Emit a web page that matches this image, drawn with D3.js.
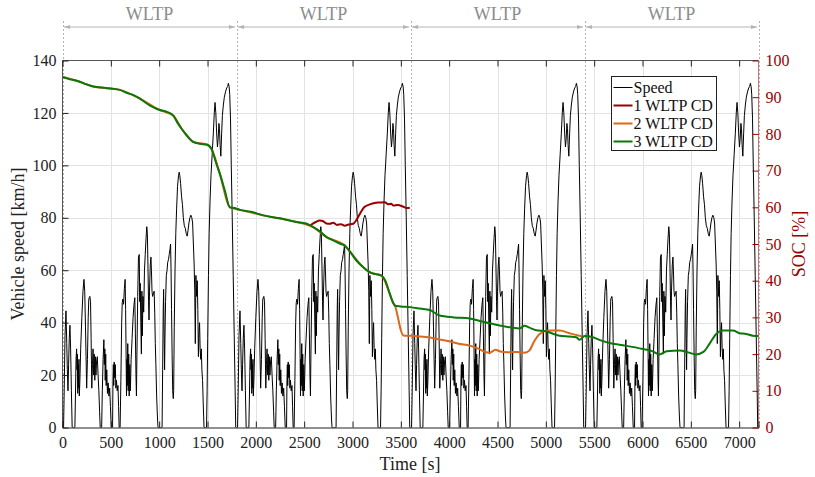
<!DOCTYPE html>
<html><head><meta charset="utf-8">
<script src="https://cdn.jsdelivr.net/npm/d3@7"></script>
<style>
body{margin:0;background:#fff;}
svg text{font-family:"Liberation Serif","Times New Roman",serif;}
</style></head>
<body><svg id="c" width="815" height="477"></svg>
<script>
// ---- data ----
const cycleLength = 1800;
const cycleCount = 4;
const cycleName = "WLTP";
// one WLTP class 3 cycle: [time s, speed km/h]
const speedCycle = [
[0,0],[11,0],[18,15],[26,35],[36,44.5],[44,32],[50,22],[57,14],[63,24],[70,34],[77,39],[84,30],[92,14],[100,0],[128,0],
[134,12],[140,26],[146,30],[150,22],[154,28],[158,13],[162,24],[166,15],[170,26],[174,12],[180,18],[188,30],[200,42],[212,52],
[222,56.5],[230,52],[238,38],[250,15],[258,26],[266,42],[272,49],[283,50],[290,48],[296,34],[303,15],[310,24],[316,30],[322,20],
[328,28],[334,18],[340,27],[346,20],[352,25],[360,27],[368,20],[376,14],[384,6],[390,0],[405,0],[412,14],[420,26],[428,33.5],
[433,24],[438,30],[442,18],[447,28],[452,16],[458,22],[465,13],[472,17],[480,12],[488,15],[496,8],[504,0],[518,0],[522,18],
[526,24],[530,16],[535,25],[540,19],[546,24],[552,15],[558,18],[566,14],[574,16],[580,8],[586,0],[596,0],
[604,18],[612,40],[618,47.6],[625,49],[632,47],[640,53],[648,56.5],[653,45],[658,28],[662,12],[666,26],[670,16],[675,32],
[680,14],[685,28],[690,12],[696,24],[702,14],[710,26],[720,34],[730,42],[740,47],[748,49.5],[754,36],[760,20],[765,12],
[770,28],[778,50],[786,65],[794,66],[799,48],[804,55],[810,40],[816,28],[821,52],[826,35],[832,50],[840,44],[848,60],
[856,66],[864,72],[872,76.6],[878,74],[884,62],[890,48],[895,41],[900,52],[908,62],[915,65],[920,60],[926,52],[932,50],
[940,51],[948,52],[954,44],[960,32],[966,24],[974,12],[982,4],[988,0],[1030,0],
[1036,22],[1042,45],[1046,52.7],[1051,36],[1056,22],[1060,34],[1066,48],[1074,58],[1082,60],[1088,63],[1096,64],[1104,66],
[1112,68],[1118,70],[1123,60],[1128,45],[1134,28],[1140,14],[1146,11],[1150,14],[1156,38],[1164,60],[1172,74],[1180,83],
[1190,92],[1200,96],[1207,97.4],[1214,96],[1222,93],[1232,88],[1241,85],[1250,80],[1260,77],[1270,76],[1280,74],[1290,73],
[1298,75],[1308,78],[1318,80],[1328,81],[1338,80],[1346,78],[1354,70],[1362,62],[1368,52],[1374,32],[1380,58],[1388,50],
[1394,56],[1400,45],[1406,27],[1412,36],[1418,40],[1424,30],[1430,26],[1436,30],[1442,22],[1449,18],[1456,9],[1464,0],[1490,0],
[1496,14],[1502,34],[1510,58],[1517,74],[1526,86],[1536,96],[1548,104],[1560,112],[1570,120],[1578,124],[1586,120],[1595,112],
[1603,107],[1610,110],[1618,116],[1624,114],[1630,108],[1638,103.5],[1646,112],[1654,119],[1664,123],[1674,126],[1686,128],
[1698,129.5],[1708,130],[1716,131.3],[1724,130],[1730,127],[1738,118],[1746,100],[1756,80],[1766,58],[1776,36],[1786,14],
[1792,0],[1800,0]
];
// SOC [%] vs time [s]
const soc3 = [
[0,95.5],[60,95.0],[146,94.5],[250,93.5],[318,92.9],[450,92.5],[594,92.0],[663,91.2],[740,90.5],[801,89.6],[860,88.5],
[905,87.7],[960,87.0],[1008,86.5],[1080,86.0],[1146,85.0],[1190,83.0],[1232,81.4],[1290,79.5],[1353,77.8],[1420,77.3],
[1491,77.1],[1542,75.9],[1590,72.0],[1628,69.1],[1680,64.5],[1731,60.0],[1783,59.8],[1835,59.3],[1950,58.8],[2076,57.8],
[2250,57.0],[2421,56.0],[2520,55.6],[2593,54.6],[2660,53.5],[2731,51.9],[2800,51.0],[2880,50.0],[2920,49.6],[2972,48.0],
[3040,45.5],[3110,43.7],[3179,42.3],[3240,41.8],[3300,41.4],[3340,40.0],[3386,36.4],[3420,34.0],[3438,33.2],[3500,33.0],
[3593,32.8],[3700,32.4],[3800,32.0],[3902,30.5],[4050,30.0],[4213,29.7],[4350,28.8],[4522,27.8],[4650,27.2],[4729,27.0],
[4780,27.7],[4830,27.2],[4900,26.5],[5000,26.2],[5143,25.0],[5250,24.8],[5315,24.6],[5349,23.9],[5400,24.9],[5487,24.6],
[5560,23.8],[5659,23.0],[5800,22.4],[6004,21.4],[6100,20.8],[6176,19.9],[6250,20.8],[6383,21.0],[6480,20.4],[6555,19.9],
[6630,20.6],[6693,22.8],[6762,25.5],[6831,26.4],[6935,26.4],[7003,25.7],[7072,25.5],[7141,25.0],[7200,24.9]
];
const soc2 = [
[0,95.5],[146,94.5],[318,92.9],[594,92.0],[801,89.6],[1008,86.5],[1146,85.0],[1232,81.4],[1353,77.8],[1491,77.1],[1542,75.9],
[1628,69.1],[1731,60.0],[1835,59.3],[2076,57.8],[2421,56.0],[2593,54.6],[2731,51.9],[2920,49.6],[2972,48.0],[3110,43.7],
[3179,42.3],[3300,41.4],[3386,36.4],[3420,34.0],[3440,33.2],[3470,30.0],[3500,26.5],[3527,25.1],[3600,25.0],[3700,24.8],
[3800,24.5],[3900,24.0],[4000,23.5],[4100,22.8],[4213,22.3],[4300,21.5],[4380,20.5],[4420,20.4],[4480,21.2],[4520,20.8],
[4600,20.5],[4700,20.6],[4781,20.4],[4830,21.0],[4880,23.5],[4936,25.5],[5019,26.4],[5100,26.4],[5143,26.4],[5246,25.7],
[5349,25.0],[5380,24.9]
];
const soc1 = [
[2560,55.0],[2576,55.3],[2620,56.0],[2660,56.4],[2697,56.2],[2730,55.6],[2766,55.5],[2800,55.8],[2840,55.2],[2880,55.4],
[2920,55.0],[2960,55.3],[3007,55.5],[3040,56.5],[3076,58.2],[3120,60.0],[3179,60.8],[3230,61.2],[3280,61.3],[3334,61.4],
[3370,60.8],[3400,61.0],[3420,60.5],[3470,60.6],[3520,60.2],[3560,59.8],[3593,59.9]
];
const xTicks = [0,500,1000,1500,2000,2500,3000,3500,4000,4500,5000,5500,6000,6500,7000];
const yLeftTicks = [0,20,40,60,80,100,120,140];
const yRightTicks = [0,10,20,30,40,50,60,70,80,90,100];
const legendLabels = ["Speed","1 WLTP CD","2 WLTP CD","3 WLTP CD"];
const seriesColors = ["#000000","#990000","#d9691c","#0a770a"];

// ---- build speed series over all cycles ----
const speed = [];
for (let k = 0; k < cycleCount; k++) {
  speedCycle.forEach(([t, v], i) => { if (k > 0 && i === 0) return; speed.push([t + k*cycleLength, v]); });
}

const svg = d3.select("#c");
const L = 62.5, R = 758.5, T = 60.5, B = 427.5;
const x = d3.scaleLinear().domain([0, cycleLength*cycleCount]).range([L, R]);
const yL = d3.scaleLinear().domain([0, 140]).range([B, T]);
const yR = d3.scaleLinear().domain([0, 100]).range([B, T]);
const red = "#990000";

// grid
const g = svg.append("g");
g.selectAll(".vg").data(xTicks.filter(d=>d>0)).enter().append("line")
  .attr("x1", d=>Math.round(x(d))+0.5).attr("x2", d=>Math.round(x(d))+0.5).attr("y1", T).attr("y2", B)
  .attr("stroke", "#e3e3e3").attr("stroke-width", 1);
g.selectAll(".hg").data(yLeftTicks.filter(d=>d>0 && d<140)).enter().append("line")
  .attr("x1", L).attr("x2", R).attr("y1", d=>Math.round(yL(d))+0.5).attr("y2", d=>Math.round(yL(d))+0.5)
  .attr("stroke", "#e3e3e3").attr("stroke-width", 1);

// cycle boundaries (dotted)
const bounds = d3.range(0, cycleCount+1).map(k=>k*cycleLength);
svg.selectAll(".cb").data(bounds).enter().append("line")
  .attr("x1", d=>Math.round(x(d))+0.5).attr("x2", d=>Math.round(x(d))+0.5)
  .attr("y1", 21).attr("y2", B)
  .attr("stroke", "#b4b4b4").attr("stroke-width", 1).attr("stroke-dasharray", "2,2");

// arrows
const defs = svg.append("defs");
defs.append("marker").attr("id","ah").attr("viewBox","0 0 10 10").attr("refX",10).attr("refY",5)
  .attr("markerWidth",6).attr("markerHeight",6).attr("orient","auto-start-reverse")
  .append("path").attr("d","M0,1.5 L10,5 L0,8.5 z").attr("fill","#b4b4b4");
const cyc = d3.range(cycleCount);
svg.selectAll(".ar").data(cyc).enter().append("line")
  .attr("x1", d=>x(d*cycleLength)+1.5).attr("x2", d=>x((d+1)*cycleLength)-1.5)
  .attr("y1", 27).attr("y2", 27).attr("stroke","#b4b4b4").attr("stroke-width",1)
  .attr("marker-start","url(#ah)").attr("marker-end","url(#ah)");
svg.selectAll(".wl").data(cyc).enter().append("text")
  .attr("x", d=>x((d+0.5)*cycleLength)).attr("y", 20)
  .attr("text-anchor","middle").attr("font-size", 18).attr("fill","#8c8c8c").text(cycleName);

// clip
defs.append("clipPath").attr("id","clip").append("rect").attr("x",L).attr("y",T-2).attr("width",R-L).attr("height",B-T+2);

// speed line
const lineL = d3.line().x(d=>x(d[0])).y(d=>yL(d[1]));
const lineR = d3.line().x(d=>x(d[0])).y(d=>yR(d[1])).curve(d3.curveMonotoneX);
const plot = svg.append("g").attr("clip-path","url(#clip)");
plot.append("path").datum(speed).attr("d", lineL).attr("fill","none").attr("stroke","#000").attr("stroke-width",1);
plot.append("path").datum(soc1).attr("d", lineR).attr("fill","none").attr("stroke",seriesColors[1]).attr("stroke-width",2);
plot.append("path").datum(soc2).attr("d", lineR).attr("fill","none").attr("stroke",seriesColors[2]).attr("stroke-width",2);
plot.append("path").datum(soc3).attr("d", lineR).attr("fill","none").attr("stroke",seriesColors[3]).attr("stroke-width",2);

// axes frame
svg.append("line").attr("x1",L).attr("x2",R).attr("y1",T).attr("y2",T).attr("stroke","#555").attr("stroke-width",1);
svg.append("line").attr("x1",L).attr("x2",L).attr("y1",T).attr("y2",B).attr("stroke","#555").attr("stroke-width",1);
svg.append("line").attr("x1",R).attr("x2",R).attr("y1",T).attr("y2",B).attr("stroke",red).attr("stroke-width",1).attr("stroke-opacity",0.55);

// x axis bottom
const xAx = svg.append("g").attr("transform",`translate(0,${B})`)
  .call(d3.axisBottom(x).tickValues(xTicks).tickSize(-6).tickPadding(9).tickFormat(d3.format("d")));
xAx.select(".domain").attr("stroke","#222");
xAx.selectAll(".tick line").attr("stroke","#222");
xAx.selectAll("text").attr("font-size",16).attr("fill","#222").attr("font-family","Liberation Serif");
// top ticks
const xTop = svg.append("g").attr("transform",`translate(0,${T})`)
  .call(d3.axisTop(x).tickValues(xTicks).tickSize(-6).tickFormat(""));
xTop.select(".domain").remove();
xTop.selectAll(".tick line").attr("stroke","#222");

// left axis
const yAx = svg.append("g").attr("transform",`translate(${L},0)`)
  .call(d3.axisLeft(yL).tickValues(yLeftTicks).tickSize(-6).tickPadding(6));
yAx.select(".domain").remove();
yAx.selectAll(".tick line").attr("stroke","#222");
yAx.selectAll("text").attr("font-size",16).attr("fill","#222").attr("font-family","Liberation Serif");

// right axis
const yAxR = svg.append("g").attr("transform",`translate(${R},0)`)
  .call(d3.axisRight(yR).tickValues(yRightTicks).tickSize(-6).tickPadding(7));
yAxR.select(".domain").remove();
yAxR.selectAll(".tick line").attr("stroke",red);
yAxR.selectAll("text").attr("font-size",16).attr("fill",red).attr("font-family","Liberation Serif");

// axis labels
svg.append("text").attr("x",410).attr("y",470).attr("text-anchor","middle").attr("font-size",18).attr("fill","#222").text("Time [s]");
svg.append("text").attr("transform",`translate(24,${(T+B)/2}) rotate(-90)`).attr("text-anchor","middle")
  .attr("font-size",18).attr("fill","#222").text("Vehicle speed [km/h]");
svg.append("text").attr("transform",`translate(805,${(T+B)/2}) rotate(-90)`).attr("text-anchor","middle")
  .attr("font-size",18).attr("fill",red).text("SOC [%]");

// legend
const lg = svg.append("g").attr("transform","translate(611.5,76.5)");
lg.append("rect").attr("width",105).attr("height",74).attr("fill","#fff").attr("stroke","#222").attr("stroke-width",1);
const rows = lg.selectAll(".lr").data(legendLabels).enter().append("g").attr("transform",(d,i)=>`translate(0,${11+i*18})`);
rows.append("line").attr("x1",2).attr("x2",21).attr("y1",0).attr("y2",0)
  .attr("stroke",(d,i)=>seriesColors[i]).attr("stroke-width",(d,i)=>i===0?1:2);
rows.append("text").attr("x",22).attr("y",5.5).attr("font-size",16).attr("fill","#111").text(d=>d);
</script></body></html>
